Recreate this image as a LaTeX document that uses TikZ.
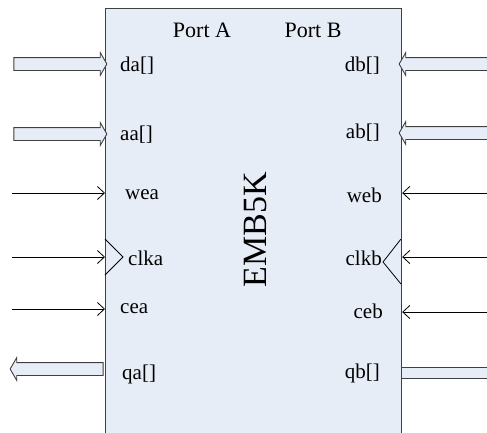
\documentclass[tikz,border=0pt]{standalone}
\usepackage{fontspec}
\setmainfont{Liberation Serif}
\usetikzlibrary{shapes.arrows,arrows.meta}
\definecolor{blockfill}{RGB}{231,237,247}
\definecolor{edgegray}{RGB}{64,64,64}

\begin{document}
\begin{tikzpicture}[x=1pt,y=-1pt,
    lbl/.style={inner sep=0pt, font=\fontsize{21}{24}\selectfont},
    bus/.style={single arrow, draw=edgegray, fill=blockfill, line width=0.9pt,
        minimum width=22pt, single arrow head extend=5pt, single arrow tip angle=120,
        single arrow head indent=0pt, inner xsep=0pt, inner ysep=6pt},
    sig/.style={-{Straight Barb[length=7pt,width=13pt]}, line width=0.8pt}]
                \useasboundingbox (0,0) rectangle (487,432);
                \clip (0,0) rectangle (487,432);
                % memory block, open at the bottom
                \node[draw=edgegray, fill=blockfill, line width=1.2pt, inner sep=0pt,
                    minimum width=296pt, minimum height=460pt, anchor=north west] (emb) at (105,8) {};
                \node[lbl, font=\fontsize{22}{26}\selectfont] (porta) at (202,30) {Port A};
                \node[lbl, font=\fontsize{22}{26}\selectfont] (portb) at (313,30) {Port B};
                \node[lbl, rotate=90, font=\fontsize{34}{40}\selectfont] (embname) at (256,230) {EMB5K};
                % port A pins
                \node[lbl, anchor=west] (da) at (120,66) {da[]};
                \node[lbl, anchor=west] (aa) at (120,135) {aa[]};
                \node[lbl, anchor=west] (wea) at (125,195) {wea};
                \node[lbl, anchor=west] (clka) at (128,258) {clka};
                \node[lbl, anchor=west] (cea) at (120,309) {cea};
                \node[lbl, anchor=west] (qa) at (122,374) {qa[]};
                % port B pins
                \node[lbl, anchor=east] (db) at (380,66) {db[]};
                \node[lbl, anchor=east] (ab) at (380,133) {ab[]};
                \node[lbl, anchor=east] (web) at (382,195) {web};
                \node[lbl, anchor=east] (clkb) at (382,258) {clkb};
                \node[lbl, anchor=east] (ceb) at (383,311) {ceb};
                \node[lbl, anchor=east] (qb) at (380,373) {qb[]};
                % buses
                \node[bus, minimum height=93pt] (dabus) at (58.5,64) {};
                \node[bus, minimum height=93pt] (aabus) at (58.5,134) {};
                \node[bus, minimum height=93pt, shape border rotate=180] (qabus) at (58.5,369) {};
                \node[bus, minimum height=94pt, shape border rotate=180] (dbbus) at (448,64) {};
                \node[bus, minimum height=94pt, shape border rotate=180] (abbus) at (448,133) {};
                \node[draw=edgegray, fill=blockfill, line width=0.9pt, inner sep=0pt,
                    minimum width=94pt, minimum height=11pt, anchor=west] (qbbus) at (401,373) {};
                % single signals
                \coordinate (wein) at (12,193);
                \coordinate (clkain) at (12,257);
                \coordinate (cein) at (12,309);
                \coordinate (webin) at (490,193);
                \coordinate (clkbin) at (490,257);
                \coordinate (cebin) at (490,312);
                \draw[sig] (wein) -- (wein -| emb.west);
                \draw[sig] (clkain) -- (clkain -| emb.west);
                \draw[sig] (cein) -- (cein -| emb.west);
                \draw[sig] (webin) -- (webin -| emb.east);
                \draw[sig] (clkbin) -- (clkbin -| emb.east);
                \draw[sig] (cebin) -- (cebin -| emb.east);
                % clock marks
                \draw[line width=0.8pt] (105,239) -- (123,257) -- (105,275);
                \draw[line width=0.8pt] (401,239) -- (383,262) -- (401,284);
\end{tikzpicture}
\end{document}
